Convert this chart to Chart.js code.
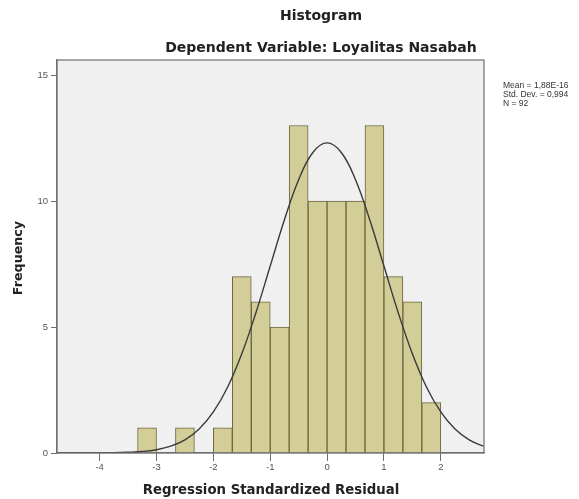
<!DOCTYPE html>
<html>
<head>
<meta charset="utf-8">
<script src="https://cdn.jsdelivr.net/npm/chart.js@4/dist/chart.umd.min.js"></script>
<style>
  html, body { margin: 0; padding: 0; background: #fff; }
  #wrap { width: 579px; height: 499px; }
</style>
</head>
<body>
<div id="wrap"><canvas id="histChart" width="579" height="499"></canvas></div>
<script>
// bin edges (width 1/3) and counts
const binEdges = [-3.333, -3.0, -2.667, -2.333, -2.0, -1.667, -1.333, -1.0, -0.667,
                  -0.333, 0.0, 0.333, 0.667, 1.0, 1.333, 1.667, 2.0];
const frequencies = [1, 0, 1, 0, 1, 7, 6, 5, 13, 10, 10, 10, 13, 7, 6, 2];

// normal curve
const curveX = [-4.75, -4.5, -4.25, -4.0, -3.75, -3.5, -3.25, -3.0, -2.75, -2.5, -2.25, -2.0,
                -1.75, -1.5, -1.25, -1.0, -0.75, -0.5, -0.25, 0.0, 0.25, 0.5, 0.75, 1.0,
                1.25, 1.5, 1.75, 2.0, 2.25, 2.5, 2.75];
const curveY = [0.0, 0.0, 0.0, 0.0, 0.01, 0.03, 0.06, 0.13, 0.27, 0.52, 0.95, 1.63,
                2.61, 3.94, 5.58, 7.42, 9.26, 10.85, 11.93, 12.31, 11.93, 10.85, 9.26, 7.42,
                5.58, 3.94, 2.61, 1.63, 0.95, 0.52, 0.27];

const xTicks = [-4, -3, -2, -1, 0, 1, 2];
const yTicks = [0, 5, 10, 15];
const statLines = ['Mean = 1,88E-16', 'Std. Dev. = 0,994', 'N = 92'];

const barData = frequencies.map((f, i) => ({
    x: (binEdges[i] + binEdges[i + 1]) / 2,
    y: f === 0 ? null : f
}));
const curveData = curveX.map((x, i) => ({ x: x, y: curveY[i] }));

const frameColor = '#707070';

// grey plot background and frame
const framePlugin = {
    id: 'frame',
    beforeDraw(chart) {
        const { ctx, chartArea: a } = chart;
        ctx.save();
        ctx.fillStyle = '#f0f0f0';
        ctx.fillRect(a.left, a.top, a.right - a.left, a.bottom - a.top);
        ctx.restore();
    },
    afterDraw(chart) {
        const { ctx, chartArea: a } = chart;
        ctx.save();
        ctx.strokeStyle = frameColor;
        ctx.lineWidth = 1.2;
        ctx.strokeRect(a.left, a.top, a.right - a.left, a.bottom - a.top);

        // titles
        ctx.fillStyle = '#222';
        ctx.textAlign = 'center';
        ctx.textBaseline = 'middle';
        ctx.font = 'bold 14px "DejaVu Sans"';
        ctx.fillText('Histogram', 321, 16);
        ctx.fillText('Dependent Variable: Loyalitas Nasabah', 321, 48);

        ctx.font = 'bold 13.3px "DejaVu Sans"';
        ctx.fillText('Regression Standardized Residual', 271, 491);

        ctx.save();
        ctx.translate(19, 258);
        ctx.rotate(-Math.PI / 2);
        ctx.font = 'bold 12.7px "DejaVu Sans"';
        ctx.fillText('Frequency', 0, 0);
        ctx.restore();

        // stats box text
        ctx.textAlign = 'left';
        ctx.font = '8.5px "Liberation Sans"';
        ctx.fillStyle = '#333';
        statLines.forEach((s, i) => ctx.fillText(s, 503, 86 + i * 9));
        ctx.restore();
    }
};

const ctx = document.getElementById('histChart').getContext('2d');
new Chart(ctx, {
    type: 'bar',
    data: {
        datasets: [
            {
                type: 'line',
                data: curveData,
                borderColor: '#3a3a3a',
                borderWidth: 1.4,
                pointRadius: 0,
                tension: 0.4,
                fill: false,
                order: 1
            },
            {
                data: barData,
                backgroundColor: '#d3ce97',
                borderColor: '#6b6640',
                borderWidth: 1,
                barPercentage: 1,
                categoryPercentage: 1,
                order: 2
            }
        ]
    },
    options: {
        responsive: false,
        animation: false,
        layout: { padding: { top: 60, right: 95, left: 0, bottom: 0 } },
        plugins: {
            legend: { display: false },
            tooltip: { enabled: false }
        },
        scales: {
            x: {
                type: 'linear',
                min: -4.75,
                max: 2.76,
                offset: false,
                afterBuildTicks: s => { s.ticks = xTicks.map(v => ({ value: v })); },
                afterFit: s => { s.height = 46; },
                grid: { offset: false, drawOnChartArea: false, drawTicks: true, tickLength: 8, color: frameColor },
                border: { display: true, color: frameColor, width: 1.2 },
                ticks: { padding: 1, color: '#555', font: { family: 'Liberation Sans', size: 9.5 } }
            },
            y: {
                min: 0,
                max: 15.6,
                afterBuildTicks: s => { s.ticks = yTicks.map(v => ({ value: v })); },
                afterFit: s => { s.width = 57; },
                grid: { drawOnChartArea: false, drawTicks: true, tickLength: 6, color: frameColor },
                border: { display: true, color: frameColor, width: 1.2 },
                ticks: { padding: 3, color: '#555', font: { family: 'Liberation Sans', size: 9.5 } }
            }
        }
    },
    plugins: [framePlugin]
});
</script>
</body>
</html>
